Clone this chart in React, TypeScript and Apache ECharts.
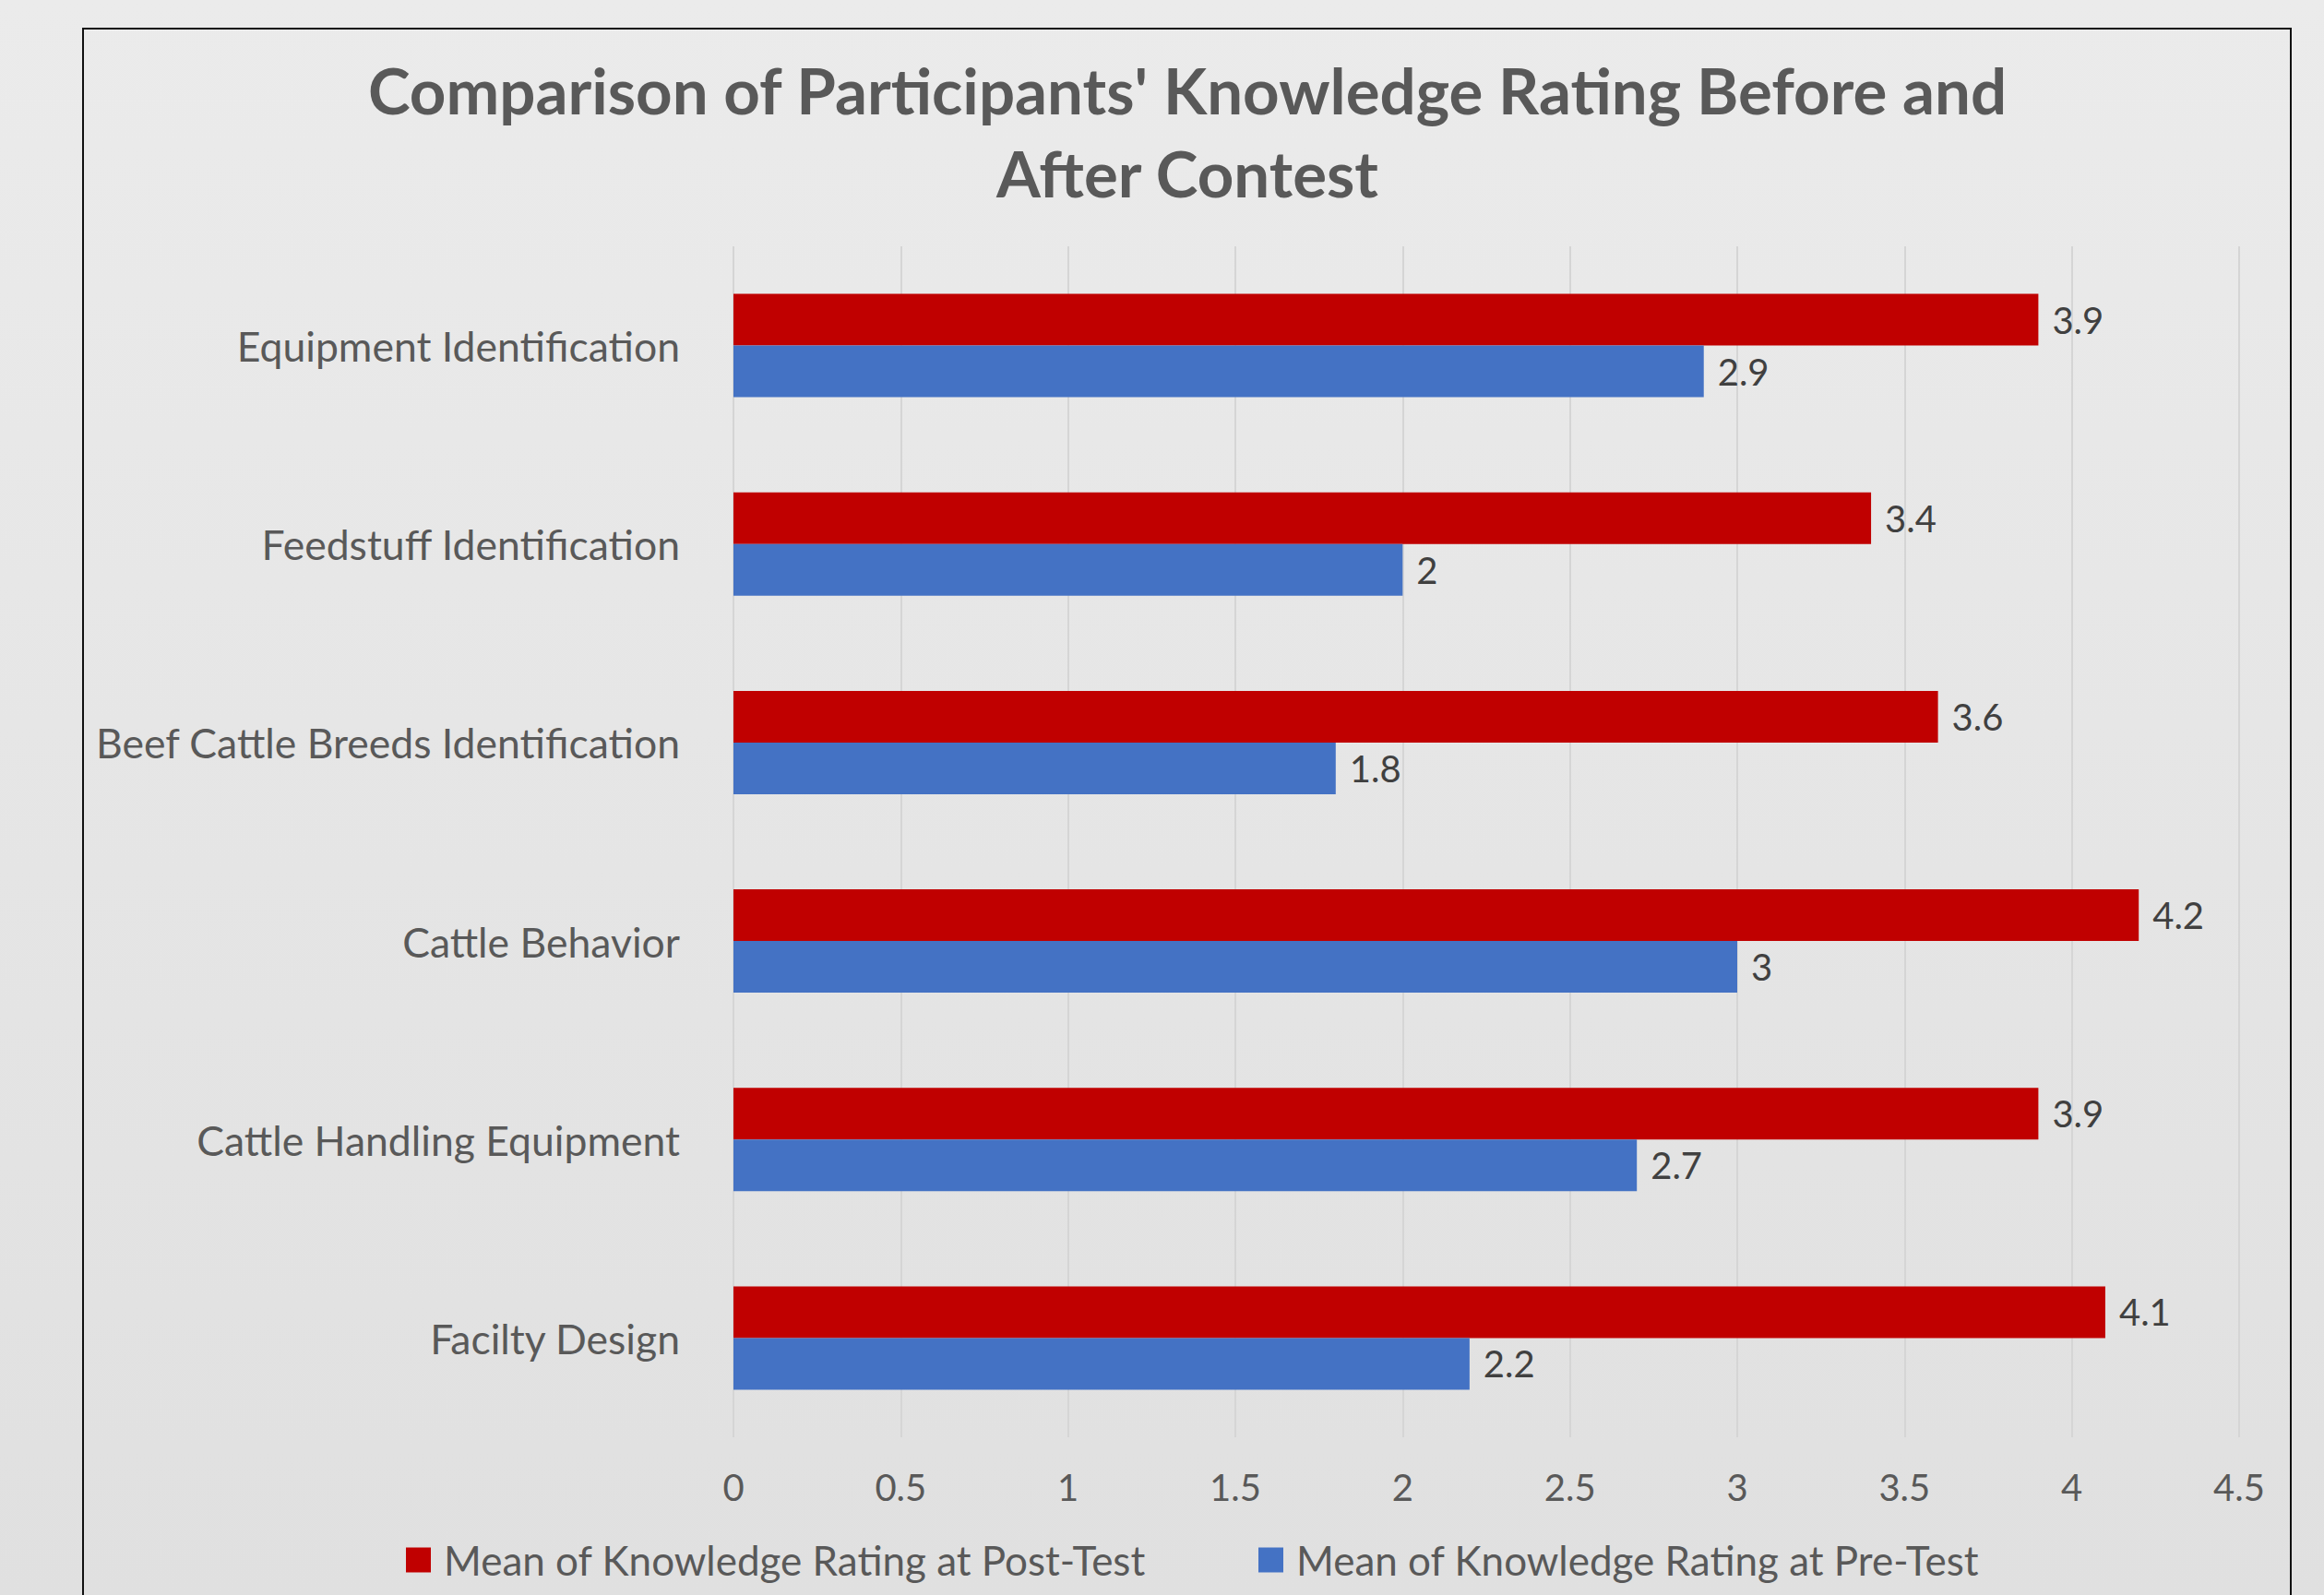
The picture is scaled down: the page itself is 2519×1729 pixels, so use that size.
import React, { useEffect, useRef } from "react";
import * as echarts from "echarts";

const categories = [
  "Equipment Identification",
  "Feedstuff Identification",
  "Beef Cattle Breeds Identification",
  "Cattle Behavior",
  "Cattle Handling Equipment",
  "Facilty Design",
];
const postTest = [3.9, 3.4, 3.6, 4.2, 3.9, 4.1];
const preTest = [2.9, 2.0, 1.8, 3.0, 2.7, 2.2];
const seriesNames = [
  "Mean of Knowledge Rating at Post-Test",
  "Mean of Knowledge Rating at Pre-Test",
];
const titleText =
  "Comparison of Participants' Knowledge Rating Before and\nAfter Contest";

const FONT = "Lato, 'Open Sans', sans-serif";

export default function App() {
  const ref = useRef<HTMLDivElement>(null);
  useEffect(() => {
    if (!ref.current) return;
    const chart = echarts.init(ref.current, undefined, { renderer: "svg" });
    chart.setOption({
      animation: false,
      backgroundColor: "transparent",
      textStyle: { fontFamily: FONT },
      graphic: [
        {
          type: "rect",
          shape: { x: 90, y: 31, width: 2393, height: 1760 },
          style: { fill: "none", stroke: "#111111", lineWidth: 2 },
          silent: true,
        },
        {
          type: "text",
          x: 1287,
          y: 52,
          silent: true,
          style: {
            text: titleText,
            fontFamily: FONT,
            fontSize: 69,
            fontWeight: "bold",
            fill: "#595959",
            lineHeight: 90,
            align: "center",
            verticalAlign: "top",
          },
        },
      ],
      legend: {
        top: 1664,
        left: 435,
        itemGap: 122,
        itemWidth: 27,
        itemHeight: 27,
        icon: "rect",
        textStyle: {
          fontFamily: FONT,
          fontSize: 44,
          color: "#595959",
          padding: [0, 0, 0, 9],
        },
        data: seriesNames,
      },
      grid: {
        left: 795,
        right: 92,
        top: 267,
        bottom: 171,
        containLabel: false,
      },
      xAxis: {
        type: "value",
        min: 0,
        max: 4.5,
        interval: 0.5,
        axisLine: { show: false },
        axisTick: { show: false },
        splitLine: { show: true, lineStyle: { color: "#d5d5d5", width: 2 } },
        axisLabel: {
          fontFamily: FONT,
          fontSize: 40,
          color: "#595959",
          margin: 34,
        },
      },
      yAxis: {
        type: "category",
        inverse: true,
        data: categories,
        axisLine: { show: false },
        axisTick: { show: false },
        splitLine: { show: false },
        axisLabel: {
          fontFamily: FONT,
          fontSize: 44.5,
          color: "#595959",
          margin: 58,
        },
      },
      series: [
        {
          name: seriesNames[0],
          type: "bar",
          data: postTest,
          barWidth: 56,
          barGap: "0%",
          itemStyle: { color: "#C00000" },
          label: {
            show: true,
            position: "right",
            distance: 15,
            fontFamily: FONT,
            fontSize: 40,
            color: "#404040",
          },
        },
        {
          name: seriesNames[1],
          type: "bar",
          data: preTest,
          barWidth: 56,
          barGap: "0%",
          itemStyle: { color: "#4472C4" },
          label: {
            show: true,
            position: "right",
            distance: 15,
            fontFamily: FONT,
            fontSize: 40,
            color: "#404040",
          },
        },
      ],
    });
    return () => chart.dispose();
  }, []);
  return (
    <div
      style={{
        position: "absolute",
        left: 0,
        top: 0,
        width: 2519,
        height: 1729,
        overflow: "hidden",
        background: "linear-gradient(to bottom, #ebebeb 0%, #e0e0e0 100%)",
      }}
    >
      <div ref={ref} style={{ width: 2519, height: 1729 }} />
    </div>
  );
}
